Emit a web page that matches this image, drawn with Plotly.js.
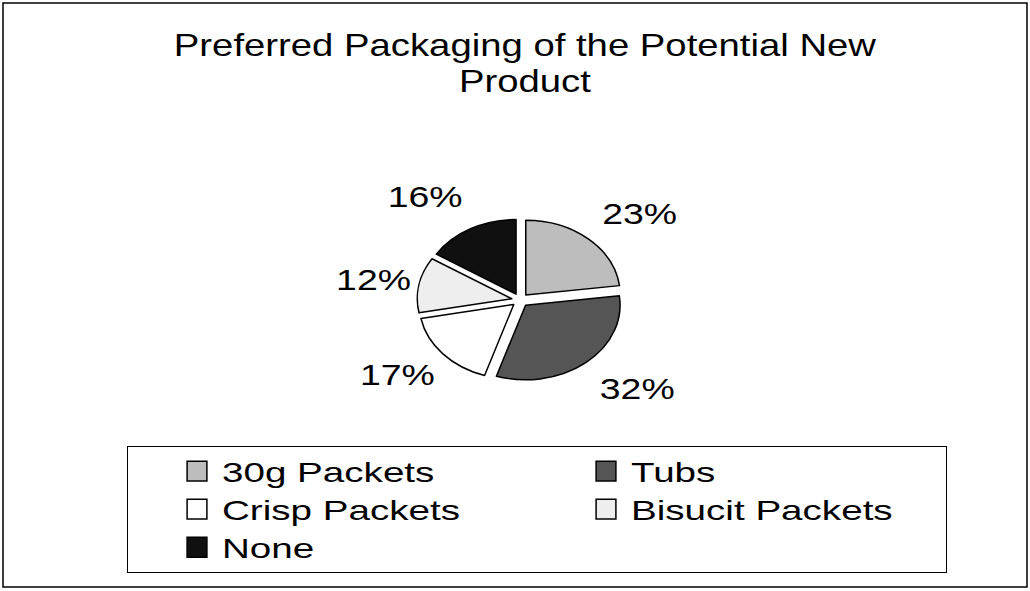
<!DOCTYPE html>
<html>
<head>
<meta charset="utf-8">
<script src="https://cdn.plot.ly/plotly-3.0.1.min.js"></script>
<style>html,body{margin:0;padding:0;background:#fff;}#chart{width:1030px;height:591px;}</style>
</head>
<body>
<div id="chart"></div>
<script>
var categories = ["30g Packets", "Tubs", "Crisp Packets", "Bisucit Packets", "None"];
var shares = [23, 32, 17, 12, 16];
var sliceColors = ["#bdbdbd", "#555555", "#ffffff", "#eeeeee", "#101010"];
var titleLines = ["Preferred Packaging of the Potential New", "Product"];

var W = 1030, H = 591;
var font = "Liberation Sans, Arial, sans-serif";
var pieDomX = [0.405, 0.605], pieDomY = [0.318, 0.6667];

var trace = {
  type: "pie",
  labels: categories,
  values: shares,
  sort: false,
  direction: "clockwise",
  rotation: 0,
  pull: 0.09,
  marker: {colors: sliceColors, line: {color: "#000", width: 1.5}},
  textinfo: "percent",
  textposition: "outside",
  outsidetextfont: {family: font, size: 29, color: "#000"},
  domain: {x: pieDomX, y: pieDomY},
  hoverinfo: "label+percent"
};

var layout = {
  width: W, height: H,
  margin: {l: 0, r: 0, t: 0, b: 0, autoexpand: false},
  paper_bgcolor: "#fff",
  font: {family: font, color: "#000"},
  title: {
    text: titleLines.map(function (s) { return '<span style="font-size:31px">' + s + '</span>'; }).join("<br>"),
    font: {family: font, size: 28, color: "#000"},
    x: 525 / W, xanchor: "center",
    y: 1 - 56 / H, yanchor: "top", yref: "container"
  },
  showlegend: true,
  legend: {
    orientation: "h",
    x: 127 / W, xanchor: "left",
    y: 1 - 446 / H, yanchor: "top",
    bordercolor: "#000", borderwidth: 1,
    bgcolor: "#fff",
    font: {family: font, size: 27, color: "#000"},
    entrywidth: 315,
    indentation: 49,
    traceorder: "normal"
  },
  shapes: [{
    type: "rect", xref: "paper", yref: "paper",
    x0: 3 / W, x1: 1027 / W, y0: 1 - 587 / H, y1: 1 - 3 / H,
    line: {color: "#000", width: 1.5}, fillcolor: "rgba(0,0,0,0)"
  }]
};

// The reference is a scan that is stretched horizontally: wide glyphs and an elliptical pie.
function appendTransform(el, t) {
  var prev = el.getAttribute("transform") || "";
  el.setAttribute("transform", (prev + " " + t).trim());
}
function stretchX(el, sx, mode, dx) {
  var bb = el.getBBox();
  var ox = mode === "left" ? bb.x : mode === "right" ? bb.x + bb.width : bb.x + bb.width / 2;
  appendTransform(el, "translate(" + (ox + (dx || 0)) + ",0) scale(" + sx + ",1) translate(" + (-ox) + ",0)");
}

Plotly.newPlot("chart", [trace], layout, {displayModeBar: false, staticPlot: true}).then(function (gd) {
  var cd0 = gd.calcdata[0][0];
  var cx = cd0.cx, cy = cd0.cy, s = 0.79;
  gd.querySelectorAll(".pielayer path.surface").forEach(function (p) {
    p.setAttribute("vector-effect", "non-scaling-stroke");
    appendTransform(p, "translate(0," + (cy * (1 - s)) + ") scale(1," + s + ")");
  });
  gd.querySelectorAll(".pielayer g.slicetext text").forEach(function (t) {
    var r = t.getBoundingClientRect();
    var mid = r.left + r.width / 2 - gd.getBoundingClientRect().left;
    var right = mid > cx;
    stretchX(t, 1.29, right ? "left" : "right", right ? 6 : 0);
  });
  var title = gd.querySelector(".gtitle");
  if (title) stretchX(title, 1.235, "center");
  gd.querySelectorAll(".legendtext").forEach(function (t) { stretchX(t, 1.43, "left", 5); });
  gd.querySelectorAll("path.legendpie").forEach(function (p) {
    p.setAttribute("vector-effect", "non-scaling-stroke");
    appendTransform(p, "scale(1.65)");
  });
});
</script>
</body>
</html>
